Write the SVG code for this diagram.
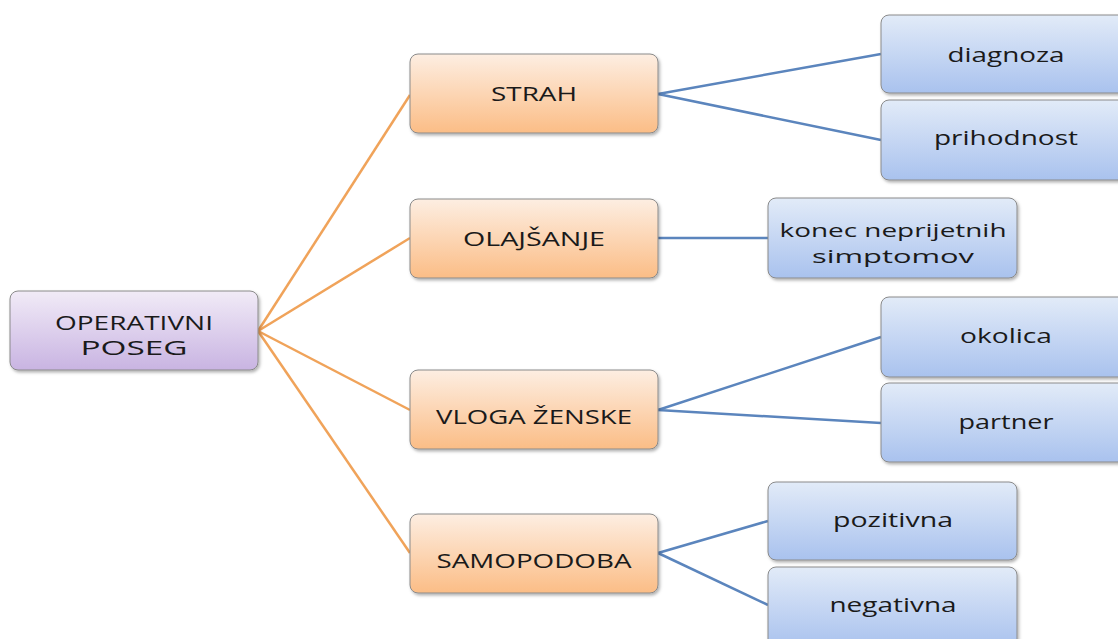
<svg xmlns="http://www.w3.org/2000/svg" width="1118" height="639" viewBox="0 0 1118 639">
<defs>
<linearGradient id="gOr" x1="0" y1="0" x2="0" y2="1"><stop offset="0" stop-color="#fdeee2"/><stop offset="1" stop-color="#fbbd86"/></linearGradient>
<linearGradient id="gBl" x1="0" y1="0" x2="0" y2="1"><stop offset="0" stop-color="#e2ebf8"/><stop offset="1" stop-color="#a9c2ee"/></linearGradient>
<linearGradient id="gPu" x1="0" y1="0" x2="0" y2="1"><stop offset="0" stop-color="#f1ebf7"/><stop offset="1" stop-color="#c9b4e2"/></linearGradient>
<filter id="sh" x="-10%" y="-10%" width="120%" height="130%"><feDropShadow dx="1.5" dy="2" stdDeviation="1.5" flood-color="#000" flood-opacity="0.3"/></filter>
</defs>
<style>
.box{stroke:#8a8a8a;stroke-width:1;filter:url(#sh)}
.or{fill:url(#gOr)}
.bl{fill:url(#gBl)}
.pu{fill:url(#gPu)}
text{font-family:"Open Sans","Liberation Sans",sans-serif;font-size:20px;fill:#1a1a1a;text-anchor:middle}
.sm{font-size:19px}
.co{stroke:#f0a35a;stroke-width:2.5;fill:none}
.cb{stroke:#5b85bd;stroke-width:2.5;fill:none}
</style>
<rect width="1118" height="639" fill="#ffffff"/>
<g id="connectors">
<path class="co" d="M258 331 L410 95"/>
<path class="co" d="M258 331 L410 238"/>
<path class="co" d="M258 331 L410 410"/>
<path class="co" d="M258 331 L410 553"/>
<path class="cb" d="M658 94 L881 54"/>
<path class="cb" d="M658 94 L881 140"/>
<path class="cb" d="M658 238 L768 238"/>
<path class="cb" d="M658 410 L881 337"/>
<path class="cb" d="M658 410 L881 423"/>
<path class="cb" d="M658 553 L768 521"/>
<path class="cb" d="M658 553 L768 605"/>
</g>
<g id="operativni"><rect class="box pu" x="10" y="291" width="248" height="79" rx="8"/><text x="134" y="330" textLength="158" lengthAdjust="spacingAndGlyphs">OPERATIVNI</text><text x="134" y="355" textLength="107" lengthAdjust="spacingAndGlyphs">POSEG</text></g>
<g id="strah"><rect class="box or" x="410" y="54" width="248" height="79" rx="8"/><text x="534" y="101" textLength="86" lengthAdjust="spacingAndGlyphs">STRAH</text></g>
<g id="olajsanje"><rect class="box or" x="410" y="199" width="248" height="79" rx="8"/><text x="534" y="246" textLength="142" lengthAdjust="spacingAndGlyphs">OLAJŠANJE</text></g>
<g id="vloga"><rect class="box or" x="410" y="370" width="248" height="79" rx="8"/><text x="534" y="424" textLength="196" lengthAdjust="spacingAndGlyphs">VLOGA ŽENSKE</text></g>
<g id="samopodoba"><rect class="box or" x="410" y="514" width="248" height="79" rx="8"/><text x="534" y="568" textLength="195" lengthAdjust="spacingAndGlyphs">SAMOPODOBA</text></g>
<g id="diagnoza"><rect class="box bl" x="881" y="15" width="250" height="78" rx="8"/><text x="1006" y="62" textLength="117" lengthAdjust="spacingAndGlyphs">diagnoza</text></g>
<g id="prihodnost"><rect class="box bl" x="881" y="100" width="250" height="80" rx="8"/><text x="1006" y="145" textLength="144" lengthAdjust="spacingAndGlyphs">prihodnost</text></g>
<g id="konec"><rect class="box bl" x="768" y="198" width="249" height="80" rx="8"/><text class="sm" x="893" y="237" textLength="227" lengthAdjust="spacingAndGlyphs">konec neprijetnih</text><text class="sm" x="893" y="263" textLength="162" lengthAdjust="spacingAndGlyphs">simptomov</text></g>
<g id="okolica"><rect class="box bl" x="881" y="297" width="250" height="80" rx="8"/><text x="1006" y="343" textLength="92" lengthAdjust="spacingAndGlyphs">okolica</text></g>
<g id="partner"><rect class="box bl" x="881" y="383" width="250" height="79" rx="8"/><text x="1006" y="429" textLength="95" lengthAdjust="spacingAndGlyphs">partner</text></g>
<g id="pozitivna"><rect class="box bl" x="768" y="482" width="249" height="78" rx="8"/><text x="893" y="527" textLength="120" lengthAdjust="spacingAndGlyphs">pozitivna</text></g>
<g id="negativna"><rect class="box bl" x="768" y="567" width="249" height="80" rx="8"/><text x="893" y="612" textLength="127" lengthAdjust="spacingAndGlyphs">negativna</text></g>
</svg>
